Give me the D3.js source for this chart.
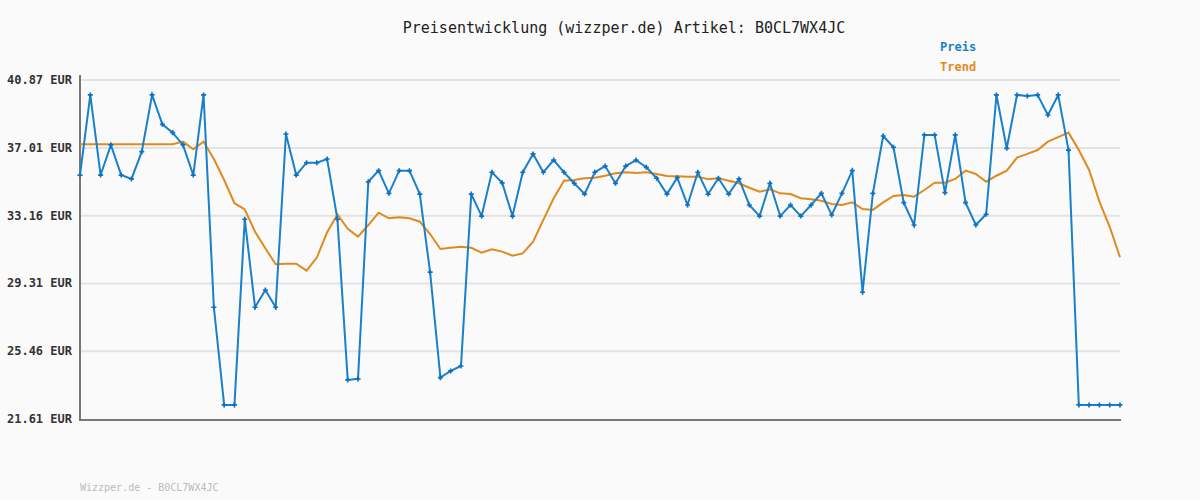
<!DOCTYPE html>
<html><head><meta charset="utf-8">
<script src="https://cdn.jsdelivr.net/npm/d3@7"></script>
<style>body{margin:0;background:#fafafa}svg{font-family:"DejaVu Sans Mono",monospace}</style>
</head><body><svg id="c" width="1200" height="500"></svg>
<script>
var yTicks = [21.61, 25.46, 29.31, 33.16, 37.01, 40.87]

var preis = [35.47,40.02,35.47,37.18,35.47,35.25,36.80,40.02,38.35,37.88,37.18,35.47,40.02,27.96,22.41,22.41,32.96,27.96,28.94,27.96,
	37.80,35.47,36.17,36.17,36.38,32.96,23.83,23.89,35.09,35.72,34.43,35.72,35.72,34.39,29.95,23.96,24.34,24.62,34.39,33.14,
	35.63,35.03,33.14,35.63,36.67,35.63,36.32,35.63,35.00,34.39,35.63,35.98,35.00,35.98,36.32,35.91,35.29,34.39,35.32,33.77,
	35.63,34.39,35.29,34.39,35.25,33.77,33.14,35.00,33.14,33.77,33.14,33.77,34.43,33.20,34.43,35.72,28.81,34.43,37.69,37.05,
	33.90,32.63,37.75,37.75,34.47,37.75,33.90,32.63,33.24,40.02,36.99,40.02,39.96,40.02,38.88,40.02,36.89,22.41,22.41,22.41,22.41,22.41]

var trend = [37.22,37.22,37.22,37.22,37.22,37.22,37.22,37.22,37.22,37.22,37.37,36.93,37.37,36.38,35.19,33.87,33.52,32.25,31.31,30.40,
	30.43,30.43,30.04,30.78,32.22,33.24,32.41,31.97,32.63,33.33,33.01,33.07,33.01,32.82,32.12,31.27,31.34,31.40,31.34,31.06,
	31.25,31.12,30.89,31.02,31.68,32.92,34.15,35.15,35.19,35.29,35.32,35.43,35.57,35.63,35.59,35.63,35.53,35.42,35.40,35.38,
	35.38,35.23,35.29,35.15,35.00,34.75,34.52,34.66,34.43,34.39,34.15,34.09,34.01,33.83,33.77,33.92,33.54,33.49,33.92,34.28,
	34.34,34.24,34.62,35.03,35.03,35.25,35.72,35.53,35.09,35.43,35.72,36.46,36.67,36.89,37.37,37.62,37.88,36.89,35.76,33.96,32.53,30.80]

var svg = d3.select('#c')
var x = d3.scaleLinear().domain([0, preis.length - 1]).range([80, 1120])
var y = d3.scaleLinear().domain([21.61, 40.87]).range([419, 80])

svg.append('g').selectAll('line').data(yTicks.slice(1)).join('line')
	.attr('x1', 80).attr('x2', 1120).attr('y1', d => y(d)).attr('y2', d => y(d))
	.attr('stroke', '#e3e3e3').attr('stroke-width', 2)

svg.append('g').selectAll('text').data(yTicks).join('text')
	.attr('x', 72).attr('y', d => y(d) + 4).attr('text-anchor', 'end')
	.attr('font-size', 12).attr('font-weight', 'bold').attr('fill', '#333')
	.text(d => d.toFixed(2) + ' EUR')

svg.append('line').attr('x1', 80).attr('x2', 80).attr('y1', 75).attr('y2', 420).attr('stroke', '#777').attr('stroke-width', 2)
svg.append('line').attr('x1', 79).attr('x2', 1121).attr('y1', 420).attr('y2', 420).attr('stroke', '#777').attr('stroke-width', 2)

var line = d3.line().x((d, i) => x(i)).y(d => y(d))
svg.append('path').attr('d', line(trend)).attr('fill', 'none').attr('stroke', '#e08a1e').attr('stroke-width', 2)
svg.append('path').attr('d', line(preis)).attr('fill', 'none').attr('stroke', '#1a80c9').attr('stroke-width', 2)
svg.append('g').selectAll('path').data(preis).join('path')
	.attr('d', d3.symbol(d3.symbolCross, 14))
	.attr('transform', (d, i) => 'translate(' + x(i) + ',' + y(d) + ')')
	.attr('fill', '#1070c0')

svg.append('text').attr('x', 624).attr('y', 33).attr('text-anchor', 'middle')
	.attr('font-size', 15).attr('fill', '#222').text('Preisentwicklung (wizzper.de) Artikel: B0CL7WX4JC')
svg.append('text').attr('x', 940).attr('y', 51).attr('font-size', 12).attr('font-weight', 'bold').attr('fill', '#1a80c9').text('Preis')
svg.append('text').attr('x', 940).attr('y', 71).attr('font-size', 12).attr('font-weight', 'bold').attr('fill', '#e08a1e').text('Trend')
svg.append('text').attr('x', 80).attr('y', 491).attr('font-size', 10).attr('fill', '#bbb').text('Wizzper.de - B0CL7WX4JC')
</script></body></html>
